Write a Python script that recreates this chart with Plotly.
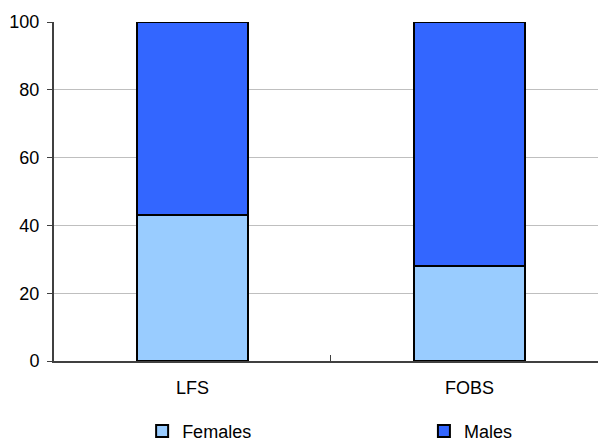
import plotly.graph_objects as go

categories = ["LFS", "FOBS"]
females = [43, 28]
males = [57, 72]
y_ticks = [0, 20, 40, 60, 80, 100]

FONT = "Liberation Sans, Arial, sans-serif"
FS = 18

fig = go.Figure()
fig.add_trace(go.Bar(
    x=categories, y=females, name="Females",
    marker=dict(color="#99CCFF", line=dict(color="#000000", width=2)),
    width=0.4, legend="legend", showlegend=True,
))
fig.add_trace(go.Bar(
    x=categories, y=males, name="Males",
    marker=dict(color="#3366FF", line=dict(color="#000000", width=2)),
    width=0.4, legend="legend2", showlegend=True,
))

legend_common = dict(
    yref="container", y=0.022, xanchor="left", yanchor="middle",
    orientation="h", font=dict(family=FONT, size=FS),
    bgcolor="rgba(0,0,0,0)",
)

fig.update_layout(
    barmode="stack",
    width=598, height=441,
    margin=dict(l=54, r=0, t=22, b=80, autoexpand=False),
    paper_bgcolor="white", plot_bgcolor="white",
    font=dict(family=FONT, size=FS, color="#000000"),
    xaxis=dict(
        type="category",
        range=[-0.5, 1.464],
        showline=True, linecolor="#404040", linewidth=2,
        ticks="inside", tickson="boundaries", ticklen=6,
        tickcolor="#404040", tickwidth=1,
        showgrid=False, zeroline=False,
        tickfont=dict(family=FONT, size=FS),
        ticklabelstandoff=9,
    ),
    yaxis=dict(
        range=[0, 100],
        tickvals=y_ticks,
        showline=True, linecolor="#404040", linewidth=2,
        ticks="outside", ticklen=5, tickcolor="#404040", tickwidth=1,
        showgrid=True, gridcolor="#BFBFBF", gridwidth=1,
        zeroline=False,
        tickfont=dict(family=FONT, size=FS),
        ticklabelstandoff=4,
    ),
    legend=dict(x=0.162, **legend_common),
    legend2=dict(x=0.680, **legend_common),
)

fig.write_html("out.html")
